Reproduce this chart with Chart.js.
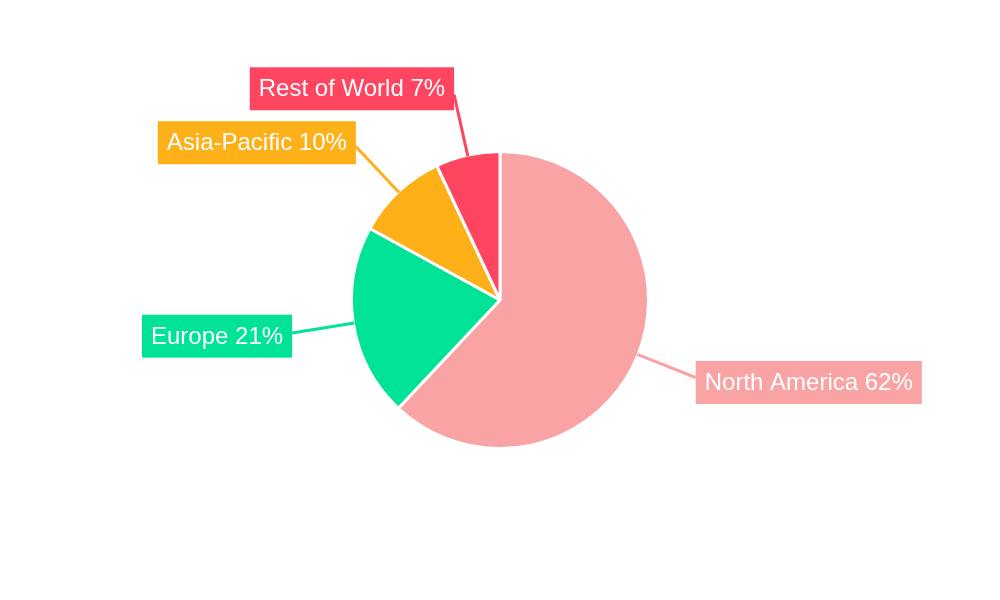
<!DOCTYPE html>
<html>
<head>
<meta charset="utf-8">
<script src="https://cdn.jsdelivr.net/npm/chart.js@4.4.0/dist/chart.umd.min.js"></script>
<style>
html,body{margin:0;padding:0;background:#fff;}
#wrap{width:1000px;height:600px;}
</style>
</head>
<body>
<div id="wrap"><canvas id="c" width="1000" height="600"></canvas></div>
<script>
const categories = ["North America", "Europe", "Asia-Pacific", "Rest of World"];
const shares = [62, 21, 10, 7];
const colors = ["#F9A3A4", "#00E396", "#FEB019", "#FF4560"];

const labelPlugin = {
  id: 'leaderLabels',
  afterDatasetsDraw(chart) {
    const ctx = chart.ctx;
    const meta = chart.getDatasetMeta(0);
    const data = chart.data.datasets[0].data;
    const total = data.reduce((a, b) => a + b, 0);
    ctx.save();
    ctx.font = '24px "Liberation Sans", Arial, sans-serif';
    meta.data.forEach((arc, i) => {
      const p = arc.getProps(['x', 'y', 'startAngle', 'endAngle', 'outerRadius'], true);
      const mid = (p.startAngle + p.endAngle) / 2;
      const dx = Math.cos(mid), dy = Math.sin(mid);
      const R = p.outerRadius;
      const sx = p.x + dx * (R - 1), sy = p.y + dy * (R - 1);
      const ex = p.x + dx * (R + 62), ey = p.y + dy * (R + 62);
      const text = chart.data.labels[i] + ' ' + Math.round(data[i] / total * 100) + '%';
      const tw = ctx.measureText(text).width;
      const padX = 9, h = 43;
      const bw = tw + padX * 2;
      const cy = p.y + dy * (R + 70) + 2;
      const bx = dx >= 0 ? ex : ex - bw;
      const by = cy - h / 2;
      const col = colors[i];
      ctx.strokeStyle = col;
      ctx.lineWidth = 3;
      ctx.beginPath();
      ctx.moveTo(sx, sy);
      ctx.lineTo(ex, ey);
      ctx.stroke();
      ctx.fillStyle = col;
      ctx.fillRect(bx, by, bw, h);
      ctx.fillStyle = '#ffffff';
      ctx.textBaseline = 'middle';
      ctx.textAlign = 'left';
      ctx.fillText(text, bx + padX, cy + 1);
    });
    ctx.restore();
  }
};

new Chart(document.getElementById('c'), {
  type: 'pie',
  data: {
    labels: categories,
    datasets: [{
      data: shares,
      backgroundColor: colors,
      borderColor: '#ffffff',
      borderWidth: 3
    }]
  },
  options: {
    responsive: false,
    animation: false,
    layout: { padding: { top: 150, bottom: 150, left: 0, right: 0 } },
    plugins: { legend: { display: false }, tooltip: { enabled: false } }
  },
  plugins: [labelPlugin]
});
</script>
</body>
</html>
